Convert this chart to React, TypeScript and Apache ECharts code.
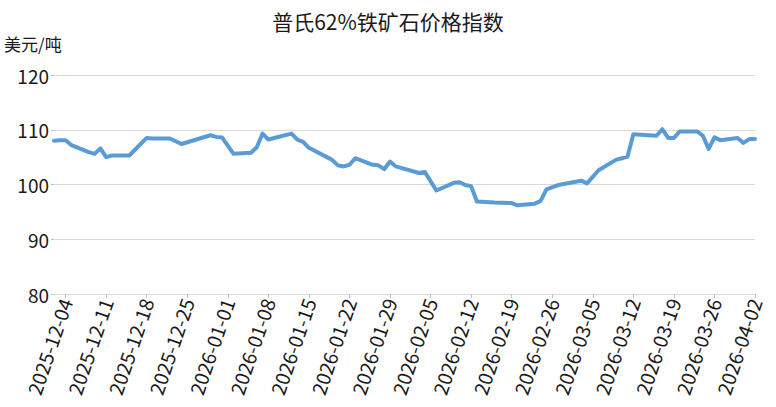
import React, { useEffect, useRef } from "react";
import * as echarts from "echarts";

const TITLE = "普氏62%铁矿石价格指数";
const Y_UNIT = "美元/吨";
const START_DATE = "2025-12-02";
const END_DATE = "2026-04-02";

const tradeDates = [
  "2025-12-02", "2025-12-03", "2025-12-04", "2025-12-05", "2025-12-08", "2025-12-09",
  "2025-12-10", "2025-12-11", "2025-12-12", "2025-12-15", "2025-12-18", "2025-12-19",
  "2025-12-22", "2025-12-23", "2025-12-24", "2025-12-29", "2025-12-30", "2025-12-31",
  "2026-01-02", "2026-01-05", "2026-01-06", "2026-01-07", "2026-01-08", "2026-01-09",
  "2026-01-12", "2026-01-13", "2026-01-14", "2026-01-15", "2026-01-19", "2026-01-20",
  "2026-01-21", "2026-01-22", "2026-01-23", "2026-01-26", "2026-01-27", "2026-01-28",
  "2026-01-29", "2026-01-30", "2026-02-03", "2026-02-04", "2026-02-06", "2026-02-09",
  "2026-02-10", "2026-02-11", "2026-02-12", "2026-02-13", "2026-02-16", "2026-02-19",
  "2026-02-20", "2026-02-23", "2026-02-24", "2026-02-25", "2026-02-27", "2026-03-03",
  "2026-03-04", "2026-03-06", "2026-03-09", "2026-03-10", "2026-03-11", "2026-03-12",
  "2026-03-16", "2026-03-17", "2026-03-18", "2026-03-19", "2026-03-20", "2026-03-23",
  "2026-03-24", "2026-03-25", "2026-03-26", "2026-03-27", "2026-03-30", "2026-03-31",
  "2026-04-01", "2026-04-02",
];

const prices = [
  108.0, 108.1, 108.1, 107.2, 105.9, 105.6,
  106.6, 105.0, 105.3, 105.3, 108.5, 108.4,
  108.4, 107.9, 107.4, 109.0, 108.7, 108.6,
  105.6, 105.8, 106.8, 109.3, 108.2, 108.5,
  109.3, 108.2, 107.8, 106.7, 104.5, 103.5,
  103.3, 103.6, 104.8, 103.6, 103.5, 102.8,
  104.2, 103.3, 102.1, 102.3, 98.9, 100.3,
  100.4, 99.9, 99.7, 96.9, 96.7, 96.6,
  96.2, 96.5, 97.0, 99.1, 99.9, 100.7,
  100.2, 102.6, 104.5, 104.8, 105.1, 109.2,
  108.9, 110.1, 108.5, 108.5, 109.7, 109.7,
  108.9, 106.5, 108.6, 108.1, 108.5, 107.6,
  108.3, 108.3,
];

const Y_MIN = 80;
const Y_MAX = 120;
const Y_STEP = 10;

function buildDays(start: string, end: string): string[] {
  const out: string[] = [];
  const s = new Date(start + "T00:00:00Z").getTime();
  const e = new Date(end + "T00:00:00Z").getTime();
  for (let t = s; t <= e; t += 86400000) {
    out.push(new Date(t).toISOString().slice(0, 10));
  }
  return out;
}

export default function App() {
  const ref = useRef<HTMLDivElement>(null);
  useEffect(() => {
    if (!ref.current) return;
    const chart = echarts.init(ref.current, null, { renderer: "svg" });
    const days = buildDays(START_DATE, END_DATE);
    const priceMap: Record<string, number> = {};
    tradeDates.forEach((d, i) => (priceMap[d] = prices[i]));
    const seriesData = days.map((d) => (d in priceMap ? priceMap[d] : null));
    const firstLabel = days.indexOf("2025-12-04");
    const font = '"Noto Sans CJK SC", "Noto Sans", sans-serif';
    chart.setOption({
      animation: false,
      backgroundColor: "#ffffff",
      textStyle: { fontFamily: font },
      title: {
        text: TITLE,
        left: "center",
        top: 5,
        textStyle: { fontSize: 21, fontWeight: "normal", color: "#1a1a1a", fontFamily: font },
      },
      graphic: [
        {
          type: "text",
          left: 4,
          top: 35,
          style: { text: Y_UNIT, fontSize: 17, fill: "#1a1a1a", fontFamily: font },
        },
      ],
      grid: {
        left: 54,
        right: 21,
        top: 75,
        bottom: 113,
        containLabel: false,
        outerBoundsMode: "none",
      },
      xAxis: {
        type: "category",
        data: days,
        boundaryGap: false,
        axisLine: { show: true, lineStyle: { color: "#d9d9d9" } },
        axisTick: {
          show: true,
          length: 4,
          interval: (i: number) => (i - firstLabel) % 7 === 0,
          lineStyle: { color: "#bfbfbf" },
        },
        axisLabel: {
          interval: (i: number) => (i - firstLabel) % 7 === 0 && i >= firstLabel,
          rotate: 71,
          fontSize: 19.5,
          color: "#1a1a1a",
          margin: 5,
          fontFamily: font,
        },
        splitLine: { show: false },
      },
      yAxis: {
        type: "value",
        min: Y_MIN,
        max: Y_MAX,
        interval: Y_STEP,
        axisLine: { show: false },
        axisTick: { show: true, length: 3, lineStyle: { color: "#bfbfbf" } },
        axisLabel: { fontSize: 19, color: "#1a1a1a", margin: 5, fontFamily: font },
        splitLine: { show: true, lineStyle: { color: "#d9d9d9", width: 1 } },
      },
      series: [
        {
          type: "line",
          data: seriesData,
          connectNulls: true,
          showSymbol: false,
          symbol: "none",
          lineStyle: { color: "#5B9BD5", width: 4, join: "round", cap: "round" },
          itemStyle: { color: "#5B9BD5" },
        },
      ],
    });
    return () => chart.dispose();
  }, []);
  return (
    <div
      ref={ref}
      style={{ position: "fixed", left: 0, top: 0, width: 776, height: 407, background: "#fff" }}
    />
  );
}
